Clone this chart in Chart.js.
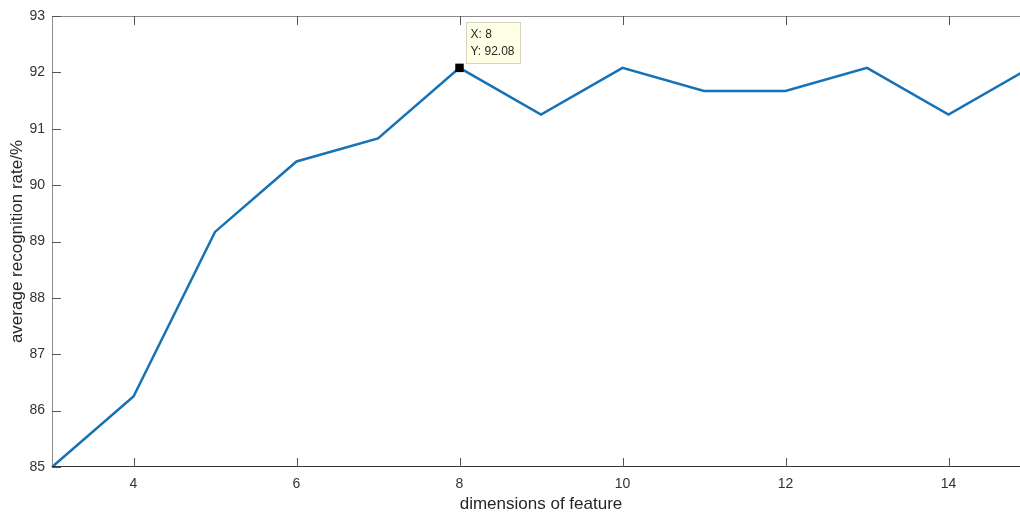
<!DOCTYPE html>
<html>
<head>
<meta charset="utf-8">
<script src="https://cdn.jsdelivr.net/npm/chart.js@4/dist/chart.umd.min.js"></script>
<style>
html,body{margin:0;padding:0;background:#fff;overflow:hidden;}
#wrap{width:1030px;height:516px;}
</style>
</head>
<body>
<div id="wrap"><canvas id="c" width="1030" height="516"></canvas></div>
<script>
const dims = [3, 4, 5, 6, 7, 8, 9, 10, 11, 12, 13, 14, 15];
const rates = [85.00, 86.25, 89.17, 90.42, 90.83, 92.08, 91.25, 92.08, 91.67, 91.67, 92.08, 91.25, 92.08];
const xTicks = [4, 6, 8, 10, 12, 14];
const yTicks = [85, 86, 87, 88, 89, 90, 91, 92, 93];
const markedIndex = 5;

const FONT = 'Liberation Sans, Arial, Helvetica, sans-serif';

const boxPlugin = {
  id: 'boxPlugin',
  afterDatasetsDraw(chart) {
    const ctx = chart.ctx;
    const a = chart.chartArea;
    const xs = chart.scales.x, ys = chart.scales.y;
    ctx.save();
    ctx.lineWidth = 1;
    ctx.strokeStyle = '#8c8c8c';
    ctx.beginPath();
    ctx.moveTo(a.left + 0.5, a.bottom);
    ctx.lineTo(a.left + 0.5, a.top + 0.5);
    ctx.lineTo(a.right - 0.5, a.top + 0.5);
    ctx.lineTo(a.right - 0.5, a.bottom);
    ctx.stroke();
    ctx.strokeStyle = '#333333';
    ctx.beginPath();
    ctx.moveTo(a.left, a.bottom - 0.5);
    ctx.lineTo(a.right, a.bottom - 0.5);
    ctx.stroke();
    const tl = 9;
    ctx.strokeStyle = '#555555';
    ctx.beginPath();
    xTicks.forEach(v => {
      const px = Math.round(xs.getPixelForValue(v)) + 0.5;
      ctx.moveTo(px, a.bottom); ctx.lineTo(px, a.bottom - tl);
      ctx.moveTo(px, a.top); ctx.lineTo(px, a.top + tl);
    });
    yTicks.forEach(v => {
      const py = Math.round(ys.getPixelForValue(v)) + 0.5;
      ctx.moveTo(a.left, py); ctx.lineTo(a.left + tl, py);
      ctx.moveTo(a.right, py); ctx.lineTo(a.right - tl, py);
    });
    ctx.stroke();
    const meta = chart.getDatasetMeta(0);
    const pt = meta.data[markedIndex];
    const bx = Math.round(pt.x) + 6.5, by = Math.round(pt.y) - 45.5;
    const bw = 54, bh = 41;
    ctx.fillStyle = '#ffffe6';
    ctx.strokeStyle = '#d4d4c4';
    ctx.fillRect(bx, by, bw, bh);
    ctx.strokeRect(bx, by, bw, bh);
    ctx.fillStyle = '#262626';
    ctx.font = '12px ' + FONT;
    ctx.textBaseline = 'middle';
    ctx.textAlign = 'left';
    ctx.fillText('X: ' + dims[markedIndex], bx + 4, by + 12);
    ctx.fillText('Y: ' + rates[markedIndex].toFixed(2), bx + 4, by + 29);
    ctx.restore();
  }
};

new Chart(document.getElementById('c'), {
  type: 'line',
  data: {
    datasets: [{
      data: dims.map((d, i) => ({x: d, y: rates[i]})),
      borderColor: '#1572B6',
      borderWidth: 2.5,
      tension: 0,
      fill: false,
      pointRadius: dims.map((d, i) => i === markedIndex ? 6 : 0),
      pointStyle: 'rect',
      pointBackgroundColor: '#000000',
      pointBorderColor: '#000000',
      pointBorderWidth: 0,
      pointHoverRadius: 0
    }]
  },
  options: {
    responsive: false,
    animation: false,
    devicePixelRatio: 1,
    events: [],
    clip: false,
    layout: {padding: {top: 16, right: 0, left: 0, bottom: 0}},
    plugins: {legend: {display: false}, tooltip: {enabled: false}},
    scales: {
      x: {
        type: 'linear',
        min: 3, max: 15,
        afterBuildTicks: s => { s.ticks = xTicks.map(v => ({value: v})); },
        afterFit: s => { s.height = 49; },
        grid: {display: false, drawTicks: false},
        border: {display: false},
        ticks: {color: '#333333', font: {family: FONT, size: 14}, padding: 9, maxRotation: 0},
        title: {display: true, text: 'dimensions of feature', color: '#262626', font: {family: FONT, size: 17}, padding: {top: 0, bottom: 1}}
      },
      y: {
        min: 85, max: 93,
        afterBuildTicks: s => { s.ticks = yTicks.map(v => ({value: v})); },
        afterFit: s => { s.width = 52; },
        grid: {display: false, drawTicks: false},
        border: {display: false},
        ticks: {color: '#333333', font: {family: FONT, size: 14}, padding: 7},
        title: {display: true, text: 'average recognition rate/%', color: '#262626', font: {family: FONT, size: 17}, padding: {top: 7, bottom: 0}}
      }
    }
  },
  plugins: [boxPlugin]
});
</script>
</body>
</html>
